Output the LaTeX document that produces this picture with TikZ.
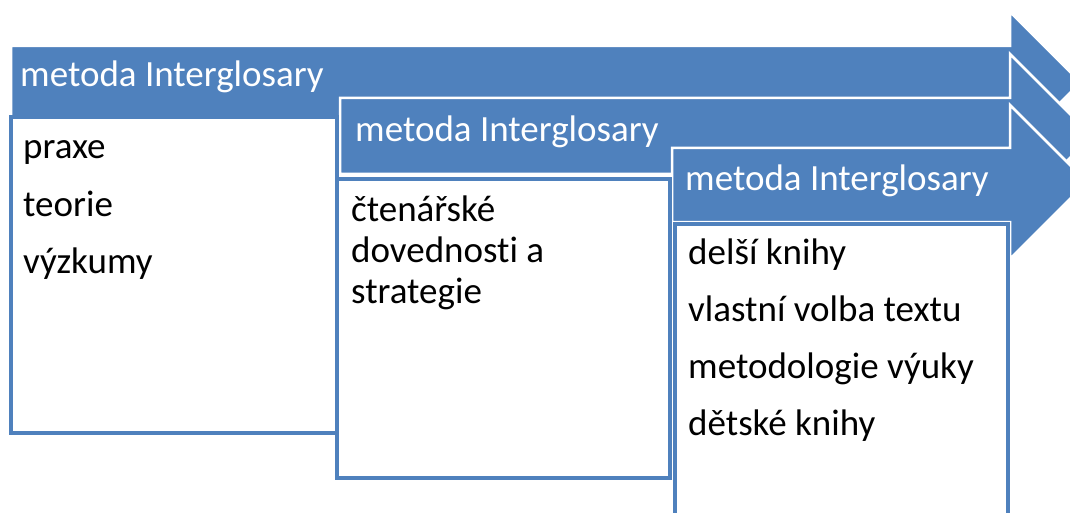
\documentclass[tikz,border=0pt]{standalone}
\usepackage{fontspec}
\setmainfont{Carlito}[Ligatures=NoCommon]
\usepackage{tikz}
\usetikzlibrary{positioning}
\definecolor{StepBlue}{RGB}{79,129,189}

\begin{document}
\begin{tikzpicture}[
    x=1pt, y=-1pt,
    band/.style={fill=StepBlue, draw=white, line width=2.5pt, line join=miter},
    card/.style={draw=StepBlue, fill=white, line width=4pt, outer sep=0pt,
                 anchor=north west, minimum width=330pt, minimum height=300pt},
    title/.style={text=white, font=\fontsize{37}{41}\selectfont, anchor=base west, inner sep=0pt},
    item/.style={font=\fontsize{37}{41}\selectfont, anchor=base west, inner sep=0pt, align=left}
]
    \useasboundingbox (0,0) rectangle (1070,513);
    \clip (0,0) rectangle (1070,513);
    % stage arrows
    \filldraw[band] (11,46) -- (1010,46) -- (1010,12) -- (1080.5,82.5) -- (1010,153)
        -- (1010,119) -- (11,119) -- cycle;
    \filldraw[band] (340,98) -- (1010,98) -- (1010,54) -- (1092,136) -- (1010,218)
        -- (1010,174) -- (340,174) -- cycle;
    \filldraw[band] (672,148) -- (1010,148) -- (1010,105) -- (1087,182) -- (1010,259)
        -- (1010,222) -- (672,222) -- cycle;
    % boxes
    \node[card, minimum width=326.5pt, minimum height=316pt] (box1) at (10.5,117) {};
    \node[card, minimum width=333pt, minimum height=299pt] (box2) at (337,179) {};
    \node[card, minimum width=333pt, minimum height=340pt] (box3) at (675,224) {};
    % headers
    \node[title] (ttl1) at (20,87) {metoda Interglosary};
    \node[title] (ttl2) at (355,142) {metoda Interglosary};
    \node[title] (ttl3) at (685,190) {metoda Interglosary};
    % first stage
    \node[item] (praxe) at (23,159) {praxe};
    \node[item, below=57pt of praxe.base west, anchor=base west] (teorie) {teorie};
    \node[item, below=57pt of teorie.base west, anchor=base west] (vyzk) {výzkumy};
    % second stage (base is the last line)
    \node[item] (cten) at (351,303) {čtenářské\\dovednosti a\\strategie};
    % third stage
    \node[item] (delsi) at (688,264) {delší knihy};
    \node[item, below=57pt of delsi.base west, anchor=base west] (volba) {vlastní volba textu};
    \node[item, below=57pt of volba.base west, anchor=base west] (metod) {metodologie výuky};
    \node[item, below=57pt of metod.base west, anchor=base west] (detske) {dětské knihy};
\end{tikzpicture}
\end{document}
